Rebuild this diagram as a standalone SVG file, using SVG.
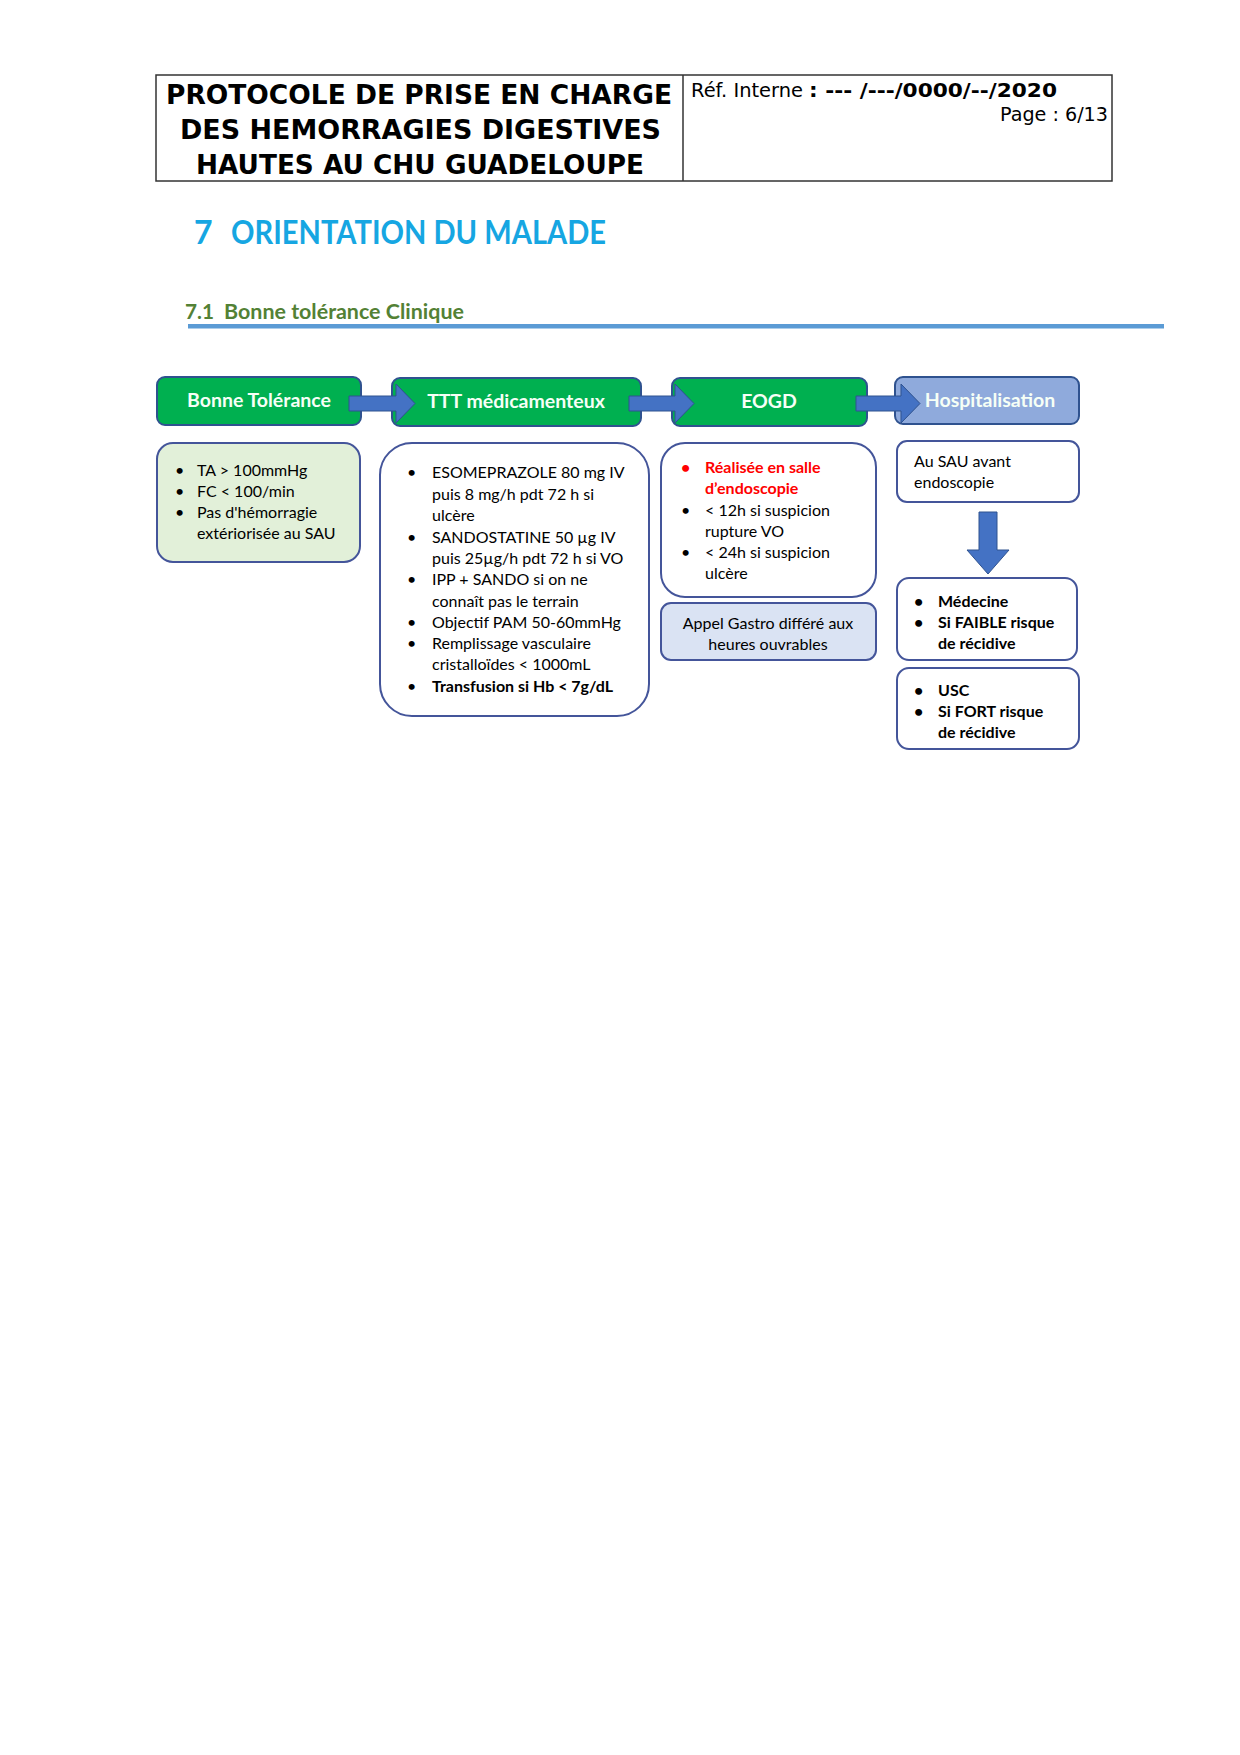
<svg xmlns="http://www.w3.org/2000/svg" width="1240" height="1755" viewBox="0 0 1240 1755">
<defs>
<style>
.hdr{font-family:"DejaVu Sans","Liberation Sans",sans-serif;font-weight:bold;font-size:26px;fill:#000}
.ref{font-family:"DejaVu Sans","Liberation Sans",sans-serif;font-size:19px;fill:#000}
.t{font-family:Lato,"Liberation Sans",sans-serif;font-size:16px;fill:#000}
.b{font-weight:bold}
.red{fill:#ff0000;font-weight:bold}
.hb{fill:#00b050;stroke:#2f528f;stroke-width:2}
.hh{fill:#8faadc;stroke:#2f528f;stroke-width:2}
.ht{font-family:Lato,"Liberation Sans",sans-serif;font-weight:bold;font-size:19.5px;fill:#f6fff6;text-anchor:middle}
.bx{fill:#fff;stroke:#44559a;stroke-width:2}
.arr{fill:#4472c4;stroke:#2f528f;stroke-width:1}
</style>
</defs>
<rect width="1240" height="1755" fill="#fff"/>
<g id="header">
<rect x="156" y="75" width="956" height="106" fill="none" stroke="#333" stroke-width="1.5"/>
<line x1="683" y1="75" x2="683" y2="181" stroke="#333" stroke-width="1.5"/>
<text class="hdr" x="166" y="104" textLength="506" lengthAdjust="spacingAndGlyphs">PROTOCOLE DE PRISE EN CHARGE</text>
<text class="hdr" x="180" y="139" textLength="481" lengthAdjust="spacingAndGlyphs">DES HEMORRAGIES DIGESTIVES</text>
<text class="hdr" x="196" y="174" textLength="448" lengthAdjust="spacingAndGlyphs">HAUTES AU CHU GUADELOUPE</text>
<text class="ref" x="691" y="97"><tspan textLength="112" lengthAdjust="spacingAndGlyphs">Réf. Interne</tspan><tspan x="809" font-weight="bold" textLength="248" lengthAdjust="spacingAndGlyphs">: --- /---/0000/--/2020</tspan></text>
<text class="ref" x="1108" y="121" text-anchor="end" textLength="108" lengthAdjust="spacingAndGlyphs">Page : 6/13</text>
</g>
<g id="titles">
<text font-family="Lato,'Liberation Sans',sans-serif" font-weight="bold" font-size="32" fill="#16a6e2"><tspan x="194" y="244">7</tspan><tspan x="231" y="244" textLength="375" lengthAdjust="spacingAndGlyphs">ORIENTATION DU MALADE</tspan></text>
<text font-family="Lato,'Liberation Sans',sans-serif" font-weight="bold" font-size="20" fill="#538135"><tspan x="185" y="319" textLength="29" lengthAdjust="spacingAndGlyphs">7.1</tspan><tspan x="224" y="319" textLength="240" lengthAdjust="spacingAndGlyphs">Bonne tolérance Clinique</tspan></text>
<rect x="188" y="324" width="976" height="4.5" fill="#5b9bd5"/>
</g>
<g id="n-bonne">
<rect class="hb" x="157" y="377" width="204" height="48" rx="8"/>
<text class="ht" x="259" y="407">Bonne Tolérance</text>
</g>
<g id="n-ttt">
<rect class="hb" x="392" y="378" width="249" height="48" rx="8"/>
<text class="ht" x="516" y="408">TTT médicamenteux</text>
</g>
<g id="n-eogd">
<rect class="hb" x="672" y="378" width="195" height="48" rx="8"/>
<text class="ht" x="769" y="408">EOGD</text>
</g>
<g id="n-hosp">
<rect class="hh" x="895" y="377" width="184" height="47" rx="8"/>
<text class="ht" x="990" y="407">Hospitalisation</text>
</g>
<g id="connectors">
<polygon class="arr" points="349,396 396,396 396,384 415,403.5 396,423 396,411 349,411"/>
<polygon class="arr" points="629,396 675,396 675,384 694,403.5 675,423 675,411 629,411"/>
<polygon class="arr" points="856,396 901,396 901,384 920,403.5 901,423 901,411 856,411"/>
<polygon class="arr" points="979,512 997,512 997,550 1009,550 988,574 967,550 979,550"/>
</g>
<g id="n-bonne-detail">
<rect x="157" y="443" width="203" height="119" rx="16" fill="#e2f0d9" stroke="#44559a" stroke-width="2"/>
<text class="t"><tspan x="175" y="476">•</tspan><tspan x="197" y="476">TA &gt; 100mmHg</tspan><tspan x="175" y="497">•</tspan><tspan x="197" y="497">FC &lt; 100/min</tspan><tspan x="175" y="518">•</tspan><tspan x="197" y="518">Pas d'hémorragie</tspan><tspan x="197" y="539">extériorisée au SAU</tspan></text>
</g>
<g id="n-ttt-detail">
<rect class="bx" x="380" y="443" width="269" height="273" rx="32"/>
<text class="t"><tspan x="407" y="478">•</tspan><tspan x="432" y="478">ESOMEPRAZOLE 80 mg IV</tspan><tspan x="432" y="499.5">puis 8 mg/h pdt 72 h si</tspan><tspan x="432" y="521">ulcère</tspan><tspan x="407" y="542.5">•</tspan><tspan x="432" y="542.5">SANDOSTATINE 50 µg IV</tspan><tspan x="432" y="564">puis 25µg/h pdt 72 h si VO</tspan><tspan x="407" y="585">•</tspan><tspan x="432" y="585">IPP + SANDO si on ne</tspan><tspan x="432" y="606.5">connaît pas le terrain</tspan><tspan x="407" y="628">•</tspan><tspan x="432" y="628">Objectif PAM 50-60mmHg</tspan><tspan x="407" y="649">•</tspan><tspan x="432" y="649">Remplissage vasculaire</tspan><tspan x="432" y="670">cristalloïdes &lt; 1000mL</tspan><tspan x="407" y="691.5">•</tspan><tspan x="432" y="691.5" class="b">Transfusion si Hb &lt; 7g/dL</tspan></text>
</g>
<g id="n-eogd-detail">
<rect class="bx" x="661" y="443" width="215" height="154" rx="24"/>
<text class="t"><tspan x="681" y="473" class="red">•</tspan><tspan x="705" y="473" class="red">Réalisée en salle</tspan><tspan x="705" y="494" class="red">d’endoscopie</tspan><tspan x="681" y="516">•</tspan><tspan x="705" y="516">&lt; 12h si suspicion</tspan><tspan x="705" y="537">rupture VO</tspan><tspan x="681" y="558">•</tspan><tspan x="705" y="558">&lt; 24h si suspicion</tspan><tspan x="705" y="579">ulcère</tspan></text>
</g>
<g id="n-appel">
<rect x="661" y="603" width="215" height="57" rx="10" fill="#dae3f3" stroke="#44559a" stroke-width="2"/>
<text class="t" text-anchor="middle"><tspan x="768" y="629">Appel Gastro différé aux</tspan><tspan x="768" y="650">heures ouvrables</tspan></text>
</g>
<g id="n-sau">
<rect class="bx" x="897" y="441" width="182" height="61" rx="10"/>
<text class="t"><tspan x="914" y="467">Au SAU avant</tspan><tspan x="914" y="488">endoscopie</tspan></text>
</g>
<g id="n-medecine">
<rect class="bx" x="897" y="578" width="180" height="82" rx="12"/>
<text class="t b"><tspan x="914" y="607">•</tspan><tspan x="938" y="607">Médecine</tspan><tspan x="914" y="628">•</tspan><tspan x="938" y="628">Si FAIBLE risque</tspan><tspan x="938" y="649">de récidive</tspan></text>
</g>
<g id="n-usc">
<rect class="bx" x="897" y="668" width="182" height="81" rx="12"/>
<text class="t b"><tspan x="914" y="696">•</tspan><tspan x="938" y="696">USC</tspan><tspan x="914" y="717">•</tspan><tspan x="938" y="717">Si FORT risque</tspan><tspan x="938" y="738">de récidive</tspan></text>
</g>
</svg>
